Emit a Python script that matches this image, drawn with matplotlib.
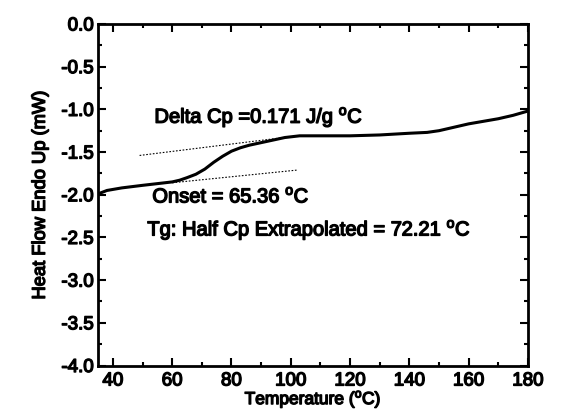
import matplotlib.pyplot as plt
import matplotlib.patheffects as pe
import numpy as np

plt.rcParams["font.family"] = ["Liberation Sans", "DejaVu Sans"]
plt.rcParams["mathtext.fontset"] = "custom"
plt.rcParams["mathtext.rm"] = "Liberation Sans"

# DSC trace
temp = [35, 38, 43, 50, 55, 60, 62.5, 65, 68, 71, 74, 77, 80, 83, 86, 90, 94, 98,
        103, 110, 120, 130, 140, 146, 150, 155, 160, 165, 170, 175, 180]
heat_flow = [-1.99, -1.95, -1.92, -1.89, -1.87, -1.85, -1.83, -1.80, -1.76, -1.70,
             -1.62, -1.55, -1.49, -1.45, -1.42, -1.39, -1.36, -1.33,
             -1.31, -1.31, -1.31, -1.30, -1.28, -1.27, -1.25, -1.21, -1.17, -1.14,
             -1.11, -1.07, -1.02]

# extrapolated baselines
upper_x = [49, 100]
upper_y = [-1.54, -1.32]
lower_x = [60, 102.5]
lower_y = [-1.86, -1.71]

heavy = [pe.withStroke(linewidth=1.0, foreground="k")]

fig, ax = plt.subplots(figsize=(5.77, 4.13), dpi=100)
ax.plot(temp, heat_flow, color="k", lw=2.2, solid_capstyle="round")
ax.plot(upper_x, upper_y, color="k", lw=0.8, ls=(0, (1.5, 1.5)))
ax.plot(lower_x, lower_y, color="k", lw=0.8, ls=(0, (1.5, 1.5)))

deg = r"$^{\mathrm{o}}$"
notes = [
    (54, -1.09, "Delta Cp =0.171 J/g " + deg + "C"),
    (53.3, -2.02, "Onset = 65.36 " + deg + "C"),
    (51.6, -2.41, "Tg: Half Cp Extrapolated = 72.21 " + deg + "C"),
]
for x, y, s in notes:
    ax.text(x, y, s, fontsize=14.5, va="center", path_effects=heavy)

ax.set_xlim(35, 180)
ax.set_ylim(-4.0, 0.0)
ax.set_xticks(np.arange(40, 181, 20))
ax.set_xticks(np.arange(50, 180, 20), minor=True)
ax.set_yticks(np.arange(-4.0, 0.01, 0.5))
ax.set_yticks(np.arange(-3.75, 0, 0.5), minor=True)
ax.yaxis.set_major_formatter(plt.FormatStrFormatter("%.1f"))
ax.tick_params(which="both", direction="in", top=True, right=True,
               labelsize=13.5, width=1.5, pad=3)
ax.tick_params(axis="x", which="both", pad=5)
ax.tick_params(which="major", length=6)
ax.tick_params(which="minor", length=3)
for lbl in ax.get_xticklabels() + ax.get_yticklabels():
    lbl.set_path_effects(heavy)
for s in ax.spines.values():
    s.set_linewidth(2)

ax.set_xlabel("Temperature (" + deg + "C)", fontsize=12.5, labelpad=-1,
              path_effects=heavy)
ax.set_ylabel("Heat Flow Endo Up (mW)", fontsize=13.2, labelpad=9,
              path_effects=heavy)

plt.subplots_adjust(left=0.17, right=0.915, top=0.942, bottom=0.115)
plt.savefig("out.png", dpi=100)
